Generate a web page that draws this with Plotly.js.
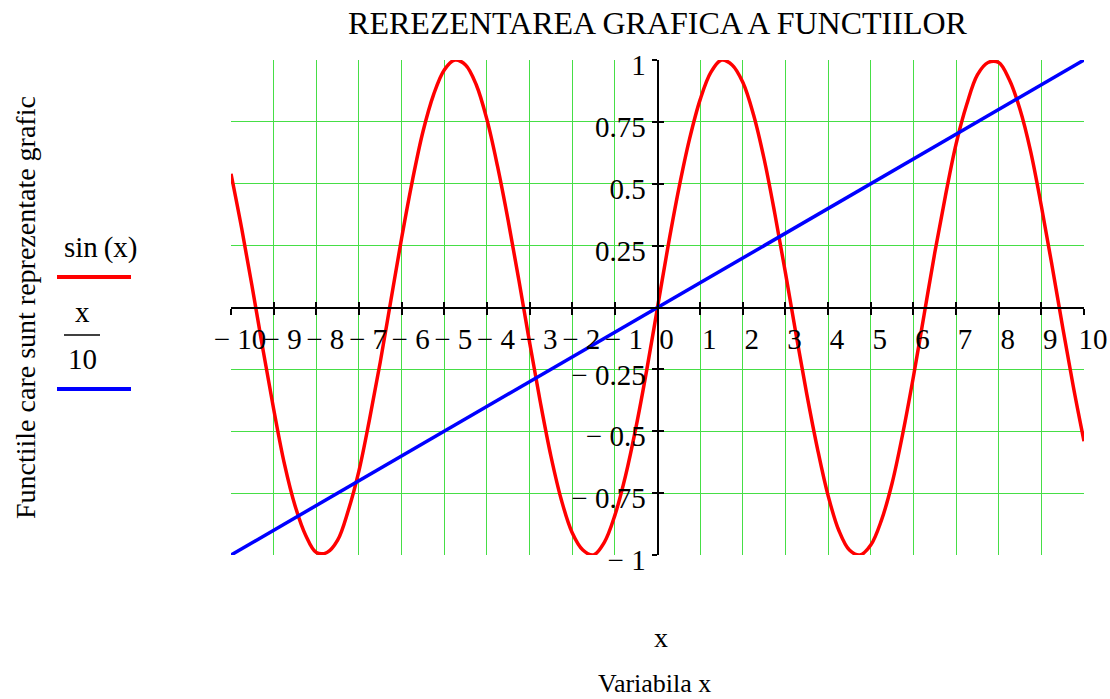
<!DOCTYPE html>
<html>
<head>
<meta charset="utf-8">
<script src="https://cdn.plot.ly/plotly-3.0.1.min.js"></script>
<style>
  html, body { margin: 0; padding: 0; background: #fff; }
  #plot { width: 1110px; height: 699px; }
</style>
</head>
<body>
<div id="plot"></div>
<script>
// Sample points of the plotted functions
const xValues = [
  -10, -9.75, -9.5, -9.25, -9, -8.75, -8.5, -8.25, -8, -7.75, -7.5, -7.25, -7, -6.75, -6.5, -6.25,
  -6, -5.75, -5.5, -5.25, -5, -4.75, -4.5, -4.25, -4, -3.75, -3.5, -3.25, -3, -2.75, -2.5, -2.25,
  -2, -1.75, -1.5, -1.25, -1, -0.75, -0.5, -0.25, 0, 0.25, 0.5, 0.75, 1, 1.25, 1.5, 1.75,
  2, 2.25, 2.5, 2.75, 3, 3.25, 3.5, 3.75, 4, 4.25, 4.5, 4.75, 5, 5.25, 5.5, 5.75,
  6, 6.25, 6.5, 6.75, 7, 7.25, 7.5, 7.75, 8, 8.25, 8.5, 8.75, 9, 9.25, 9.5, 9.75, 10
];
const sinValues = [
  0.54, 0.32, 0.08, -0.17, -0.41, -0.63, -0.80, -0.92, -0.99, -0.99, -0.94, -0.82, -0.66, -0.45, -0.22, 0.03,
  0.28, 0.51, 0.71, 0.86, 0.96, 1.00, 0.98, 0.90, 0.76, 0.57, 0.35, 0.11, -0.14, -0.38, -0.60, -0.78,
  -0.91, -0.98, -1.00, -0.95, -0.84, -0.68, -0.48, -0.25, 0.00, 0.25, 0.48, 0.68, 0.84, 0.95, 1.00, 0.98,
  0.91, 0.78, 0.60, 0.38, 0.14, -0.11, -0.35, -0.57, -0.76, -0.90, -0.98, -1.00, -0.96, -0.86, -0.71, -0.51,
  -0.28, -0.03, 0.22, 0.45, 0.66, 0.82, 0.94, 0.99, 0.99, 0.92, 0.80, 0.63, 0.41, 0.17, -0.08, -0.32, -0.54
];
const lineX = [-10, 10];
const lineValues = [-1, 1];

// Axis ticks and their labels
const xTickVals = [-10, -9, -8, -7, -6, -5, -4, -3, -2, -1, 0, 1, 2, 3, 4, 5, 6, 7, 8, 9, 10];
const xTickText = ['\u2212 10', '\u2212 9', '\u2212 8', '\u2212 7', '\u2212 6', '\u2212 5', '\u2212 4',
  '\u2212 3', '\u2212 2', '\u2212 1', '0', '1', '2', '3', '4', '5', '6', '7', '8', '9', '10'];
const yTickVals = [-1, -0.75, -0.5, -0.25, 0.25, 0.5, 0.75, 1];
const yTickText = ['\u2212 1', '\u2212 0.75', '\u2212 0.5', '\u2212 0.25', '0.25', '0.5', '0.75', '1'];
// horizontal grid rows
const yGridVals = [-1, -0.75, -0.5, -0.25, 0, 0.25, 0.5, 0.75, 1];

const chartTitle = 'REREZENTAREA GRAFICA A FUNCTIILOR';
const yTitle = 'Functiile care sunt reprezentate grafic';
const xName = 'x';
const xTitle = 'Variabila x';
const sinLabel = 'sin\u2009(x)';
const fracTop = 'x';
const fracBottom = '10';

const FONT = 'Liberation Serif, Times New Roman, serif';
const GRID = 'rgb(70,222,70)';
const RED = '#ff0000';
const BLUE = '#0000ff';

// Plot area in pixels
const L = 231, T = 60, W = 853, H = 495, FIG_W = 1110, FIG_H = 699;
const px = x => (x - L) / W;
const py = y => (T + H - y) / H;

const traces = [
  { x: xValues, y: sinValues, type: 'scatter', mode: 'lines', name: 'sin(x)',
    line: { color: RED, width: 3.5, shape: 'spline', smoothing: 1 }, hoverinfo: 'skip' },
  { x: lineX, y: lineValues, type: 'scatter', mode: 'lines', name: 'x/10',
    line: { color: BLUE, width: 3.5 }, hoverinfo: 'skip' },
  // carries the second pair of axes (ticks on the opposite side of the axis lines)
  { x: [], y: [], xaxis: 'x2', yaxis: 'y2', type: 'scatter', mode: 'lines', showlegend: false }
];

const tickFont = { family: FONT, size: 29, color: '#000' };

const layout = {
  width: FIG_W, height: FIG_H,
  margin: { l: L, r: FIG_W - L - W, t: T, b: FIG_H - T - H, pad: 0 },
  paper_bgcolor: '#fff', plot_bgcolor: '#fff',
  showlegend: false,
  title: { text: chartTitle, font: { family: FONT, size: 32, color: '#000' },
           xref: 'paper', x: 0.5, xanchor: 'center', yref: 'container', y: 1 - 23 / FIG_H, yanchor: 'middle' },
  xaxis: {
    range: [-10, 10], anchor: 'free', position: 0.5,
    tickmode: 'array', tickvals: xTickVals, ticktext: xTickText, tickangle: 0,
    ticks: 'outside', ticklen: 6, tickwidth: 2, tickcolor: '#000',
    showline: true, linecolor: '#000', linewidth: 2,
    showgrid: true, gridcolor: GRID, gridwidth: 1, zeroline: false,
    tickfont: tickFont, ticklabelshift: 9, ticklabelstandoff: 0
  },
  yaxis: {
    range: [-1, 1], anchor: 'free', position: 0.5,
    tickmode: 'array', tickvals: yTickVals, ticktext: yTickText,
    ticks: 'outside', ticklen: 5, tickwidth: 2, tickcolor: '#000',
    showline: true, linecolor: '#000', linewidth: 2,
    showgrid: false, zeroline: false,
    tickfont: tickFont, ticklabelshift: 5, ticklabelstandoff: 0
  },
  xaxis2: {
    range: [-10, 10], overlaying: 'x', anchor: 'free', position: 0.5,
    tickmode: 'array', tickvals: xTickVals, ticks: 'inside', ticklen: 6, tickwidth: 2, tickcolor: '#000',
    showticklabels: false, showgrid: false, gridcolor: GRID, zeroline: false, showline: false
  },
  yaxis2: {
    range: [-1, 1], overlaying: 'y', anchor: 'free', position: 0.5,
    tickmode: 'array', tickvals: yGridVals, ticks: '', 
    showticklabels: false, showgrid: true, gridcolor: GRID, gridwidth: 1, zeroline: false, showline: false
  },
  yaxis3: {
    range: [-1, 1], overlaying: 'y', anchor: 'free', position: 0.5,
    tickmode: 'array', tickvals: yTickVals, ticks: 'inside', ticklen: 5, tickwidth: 2, tickcolor: '#000',
    showticklabels: false, showgrid: false, zeroline: false, showline: false
  },
  annotations: [
    { text: yTitle, xref: 'paper', yref: 'paper', x: px(25), y: py(308), textangle: -90,
      showarrow: false, xanchor: 'center', yanchor: 'middle', font: { family: FONT, size: 28, color: '#000' } },
    { text: xName, xref: 'paper', yref: 'paper', x: px(661), y: py(637),
      showarrow: false, xanchor: 'center', yanchor: 'middle', font: { family: FONT, size: 28, color: '#000' } },
    { text: xTitle, xref: 'paper', yref: 'paper', x: px(654), y: py(699), borderpad: 0,
      showarrow: false, xanchor: 'center', yanchor: 'bottom', font: { family: FONT, size: 26, color: '#000' } },
    { text: sinLabel, xref: 'paper', yref: 'paper', x: px(100), y: py(247),
      showarrow: false, xanchor: 'center', yanchor: 'middle', font: { family: FONT, size: 29, color: '#000' } },
    { text: fracTop, xref: 'paper', yref: 'paper', x: px(82), y: py(312),
      showarrow: false, xanchor: 'center', yanchor: 'middle', font: { family: FONT, size: 29, color: '#000' } },
    { text: fracBottom, xref: 'paper', yref: 'paper', x: px(82), y: py(359),
      showarrow: false, xanchor: 'center', yanchor: 'middle', font: { family: FONT, size: 29, color: '#000' } }
  ],
  shapes: [
    { type: 'line', xref: 'paper', yref: 'paper', x0: px(57), x1: px(131), y0: py(277), y1: py(277),
      line: { color: RED, width: 4 } },
    { type: 'line', xref: 'paper', yref: 'paper', x0: px(64), x1: px(100), y0: py(335), y1: py(335),
      line: { color: '#000', width: 1.5 } },
    { type: 'line', xref: 'paper', yref: 'paper', x0: px(57), x1: px(131), y0: py(389), y1: py(389),
      line: { color: BLUE, width: 4 } }
  ]
};

// the y3 tick axis needs a trace of its own to be drawn
traces.push({ x: [], y: [], xaxis: 'x2', yaxis: 'y3', type: 'scatter', mode: 'lines', showlegend: false });

Plotly.newPlot('plot', traces, layout, { staticPlot: true, displayModeBar: false });
</script>
</body>
</html>
